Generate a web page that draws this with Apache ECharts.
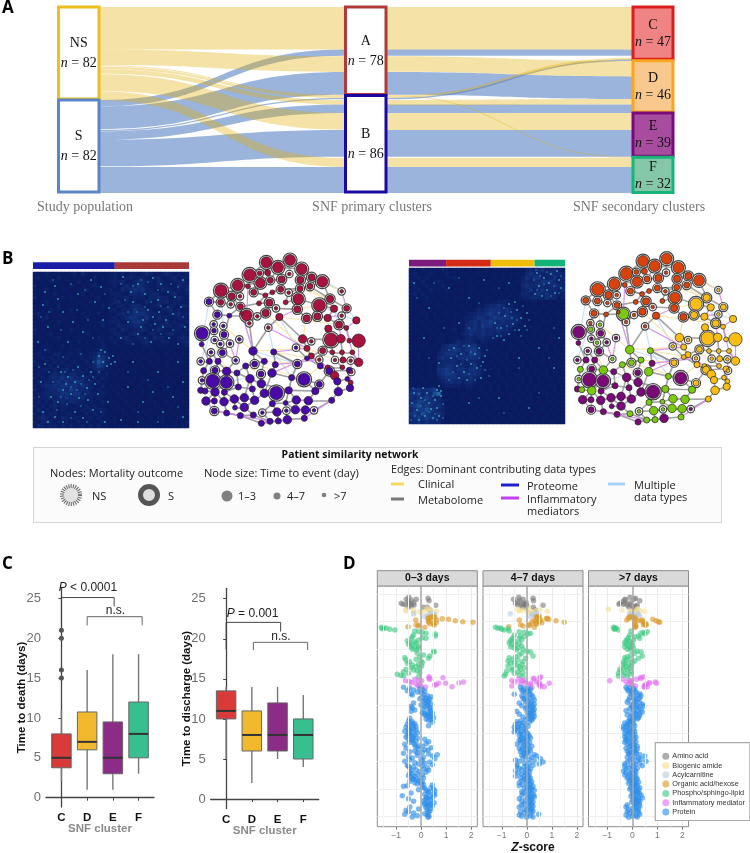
<!DOCTYPE html>
<html><head><meta charset="utf-8">
<style>html,body{margin:0;padding:0;background:#fff}#c{width:750px;height:853px}</style>
<script src="https://cdn.jsdelivr.net/npm/echarts@6/dist/echarts.min.js"></script></head>
<body><div id="c"></div>
<script>
/* ---------- A: alluvial ---------- */
const strata=[
 ['NS',82,0,0,'#EDBE1E','#fff'],['S',82,82,0,'#5B85C8','#fff'],
 ['A',78,0,1,'#B03A3A','#fff'],['B',86,78,1,'#1A0AA0','#fff'],
 ['C',47,0,2,'#DC1E1E','#F08484'],['D',46,47.5,2,'#F5A623','#F8C88E'],
 ['E',39,93.5,2,'#7A0A78','#A84CA0'],['F',32,132.5,2,'#18B47A','#84C8A8']];
const flowsPopToPrimary=[
 ['S',82,37.5,5.5],['S',87.6,57.4,20],['S',108.2,80.2,1.2],['S',109.6,86,7.5],['S',117,108.5,23.5],['S',141,141,23],
 ['NS',0,0,37.4],['NS',37.4,43.5,13.8],['NS',51.4,77.4,0.8],['NS',52.6,78.2,2],['NS',54.8,82,4],['NS',59.4,93.5,14.7],['NS',74.2,133,8]];
const flowsPrimaryToSecondary=[
 ['S',37.5,37.5,5.5],['S',57.4,61.2,20],['S',80.2,46.4,1.2],['S',86,86,7.5],['S',108.5,108.5,23.5],['S',141,141,23],
 ['NS',0,0,37.4],['NS',43.5,47.6,13.6],['NS',77.4,132.2,0.8],['NS',78.2,44.7,2],['NS',82,81.2,4.7],['NS',93.5,93.5,15],['NS',133,133,8]];
const stageCaptions=['Study population','SNF primary clusters','SNF secondary clusters'];

/* ---------- B: similarity matrices (0-9 intensity estimated per block) ---------- */
const primaryOrder=[['B',86,'#1A1FA5'],['A',78,'#A83A3A']];
const secondaryOrder=[['E',39,'#7A1A7A'],['C',47,'#D42A16'],['D',46,'#F0BE0A'],['F',32,'#14B478']];
const matrixPrimary=[
"101201100120310110112120221132112321212",
"120110201011100201012112322211231123122",
"011021101102011101122231123322132112231",
"201100110210101210102123234321122211322",
"101201011001120110121132343422113221213",
"110102101100201011022211332322321123112",
"201011020110010120112123122213232211321",
"011201100101102011012312121132122312211",
"110110201010110102121221233211231122132",
"101021100201011011022122243322112231211",
"120110110100101120111232344432221122312",
"011201011010120101012123443342132211221",
"101010210110101012122211344321221312112",
"110201101001011102111322233212123221231",
"201011010210110110022132122321132112212",
"110120101101021011112211232112211232121",
"011011201011101021121223112221322111232",
"120101101102010112012112211232112211123",
"101110020110111012101111110121011101112",
"111211101112011122111011010101001010011",
"121112211212112243211010101001100101010",
"112121212111212354210101010110010010101",
"211212121121121465311010001001010100110",
"121121212212112354201001010100100101001",
"112212123122121232110100110010010010100",
"121123232332212121201010001001100100011",
"212133343433321212110011010100010010100",
"121223434344322121101000100110100101001",
"112334344443432112010101001001001010010",
"211233443543332121101010010100100100101",
"122323344344232212100101000101010011010",
"212232334333322121010010101001001000101",
"121213232332212112101001010010100101010",
"212123122112121211010100101000110010100",
"131212121121212122101010010101001010101",
"213122112211121212010011001010100101011",
"123212132121112121101000101001011010210",
"212321212112121112011010010100101001012",
"132122121211212121101101001011001101021"];
const matrixSecondary=[
"111211112101110101010111110102323423321",
"121112101211011011110101011113433234332",
"112121110112101110101101010124344323423",
"211211121011110101011010101123233444322",
"121121112110101110110101111034334333432",
"112112111201110110101110101023423423323",
"121211110111011101110101010133234343322",
"111121101101110111011011101122333243312",
"110111010101101010111122210101110101011",
"101010111010110101123343221101010110101",
"110101010111011013234443432110101011010",
"101110101101101223345443432201011010110",
"011010110101112234434544443210110101011",
"101101011011012343445434333211010111010",
"110110101101013343544343332110101010101",
"101011010112013443433343321101011010110",
"110101101011023433433232211010110101011",
"101101011011112323322211111101010101101",
"011010111012323321221101110110101011010",
"101110102344334442110101011011010110101",
"110101013345434553111010110101101010110",
"011011023444343554211101101010110101011",
"101010134333444443110110101101010101101",
"110101123333232332101011010110101101010",
"101011033443332342110101101010110101011",
"110101144543443443211010110101011010101",
"011011134554344443110110101101010110110",
"101101023444333432101011010110101011011",
"110110112343323321110101101010101101010",
"101011101222212211101010110101011011101",
"344334521010101101101010101101010110101",
"445343671101011010110101011010101011010",
"434454331010110101011010110101101010101",
"345544432101010110101101010110101011011",
"456454343010101011010110101011010110101",
"345565432101011010110101101010101101010",
"454654343110101101011010110101011010101",
"345454432011010110101101011010110110011",
"334343331101011011010110101101010101101"];
const specksPrimary=[[58,8],[22,14],[45,22],[10,33],[30,40],[62,30],[15,55],[50,60],[35,70],[70,48],[5,70],[25,27],[68,15],[40,50],[12,20],[76,36],
[90,5],[105,12],[120,6],[135,20],[150,8],[100,30],[115,38],[125,28],[140,42],[95,50],[110,48],[122,52],[130,55],[148,35],[152,55],[88,66],[105,62],[118,70],[136,66],[145,72],[98,20],[128,12],[112,22],[142,25],[120,45],[108,55],[126,40],[133,48],
[72,80],[76,86],[80,84],[70,90],[74,94],[78,92],[66,84],[82,90],[68,78],
[28,100],[35,105],[42,110],[50,104],[58,100],[30,118],[38,122],[46,126],[54,116],[62,112],[25,130],[33,112],[45,95],[55,128],[65,122],[12,92],[8,110],[18,125],[10,140],[22,145],[30,150],[42,140],[50,146],[60,138],[72,150],[75,130],[15,150],
[100,90],[125,100],[145,90],[150,110],[110,130],[130,140],[95,115],[120,120],[140,125],[88,148],[150,145],[105,150]];
const specksSecondary=[[128,5],[135,10],[142,6],[150,12],[130,18],[138,22],[146,25],[152,20],[126,26],[133,28],[148,3],[140,15],
[100,36],[108,42],[96,48],[112,50],[104,56],[92,60],[118,45],[88,68],[100,66],[110,62],[95,72],[86,55],[106,34],[116,58],
[45,80],[52,86],[60,78],[70,80],[76,88],[48,98],[55,104],[62,96],[68,100],[74,94],[42,90],[50,110],[58,112],[72,110],[66,86],
[5,125],[12,130],[20,135],[28,140],[8,142],[16,148],[24,150],[32,128],[3,135],[14,120],[30,148],[18,125],[28,122],[32,123],[30,118],[10,152],[22,141],[26,132],
[40,20],[60,30],[20,40],[75,12],[100,15],[15,70],[50,55],[110,90],[130,80],[145,100],[90,130],[120,140],[60,135],[30,95],[150,70],[5,15]];
const faintPrimary=[[115,10],[125,18],[100,14],[108,8],[138,12],[118,30],[128,34],[104,40],[112,35],[135,35],[145,15],[92,28],[95,40],[150,45],[120,58],[112,66],[128,62],[100,72],[140,58],[88,12],
[25,95],[32,100],[40,98],[48,112],[56,108],[38,115],[28,125],[44,118],[52,122],[60,105],[34,132],[48,134],[20,110],[16,100],[66,100],[24,138],[38,146],[54,150],[68,140],[6,125],[12,78],[30,85],[48,82],[60,90],[6,95],
[20,8],[38,12],[52,18],[8,45],[28,58],[44,38],[60,66],[72,22],[16,40],[55,48],[95,100],[115,108],[135,115],[105,140],[125,150],[145,135]];
const faintSecondary=[[125,12],[131,8],[138,4],[145,18],[150,25],[128,22],[135,16],[142,28],[152,8],[127,2],
[90,45],[95,40],[102,44],[108,52],[114,38],[98,58],[106,62],[112,68],[88,60],[120,52],[92,68],[103,50],[84,70],[118,62],
[40,82],[48,88],[55,78],[62,84],[70,90],[78,82],[44,104],[52,96],[60,106],[66,112],[76,102],[40,112],[58,92],[72,98],[80,108],
[4,120],[10,126],[16,132],[24,128],[6,148],[12,138],[20,144],[28,152],[34,136],[2,152],[26,146],[34,150],
[8,30],[25,15],[50,10],[70,35],[35,60],[60,60],[90,20],[110,100],[140,90],[95,145],[130,125],[70,130],[20,90],[145,60]];

/* ---------- B: patient similarity network, x y size ring, clusters (primary, secondary) ---------- */
const nodes=[
[799,52,9,1,'AC'],[870,45,9,1,'AC'],[834,67,9,1,'AC'],[905,72,9,1,'AC'],[749,90,10,1,'AC'],[713,121,9,1,'AC'],[663,137,10,1,'AC'],[781,114,8,1,'AC'],[779,85,4,1,'AC'],[803,83,5,0,'AC'],
[868,87,3,1,'AC'],[845,103,6,1,'AC'],[811,106,5,1,'AC'],[901,105,6,1,'AC'],[935,97,6,1,'AC'],[967,110,9,1,'AC'],[900,131,5,1,'AC'],[930,124,5,1,'AC'],[744,124,4,0,'AC'],[842,133,5,1,'AC'],
[895,162,9,1,'AC'],[761,142,5,1,'AC'],[695,154,6,1,'AC'],[720,154,3,1,'AC'],[796,151,4,0,'AC'],[817,142,4,0,'AC'],[866,143,3,1,'AC'],[1025,139,3,1,'AD'],[990,162,6,1,'AD'],[662,172,5,1,'AC'],
[692,178,3,1,'AC'],[721,185,5,1,'AC'],[777,175,4,0,'AC'],[808,173,6,1,'AC'],[857,172,4,0,'AC'],[958,181,10,1,'AD'],[892,193,6,1,'AC'],[828,190,3,1,'AC'],[627,170,5,1,'BC'],[1002,191,6,0,'AD'],
[1040,190,5,1,'AD'],[740,211,9,1,'AF'],[797,204,6,1,'AC'],[772,214,3,1,'AC'],[920,220,6,1,'AC'],[952,214,6,1,'AD'],[838,216,6,0,'AC'],[652,209,5,1,'BC'],[688,212,4,0,'BC'],[725,205,3,0,'AC'],
[748,235,3,1,'AC'],[983,219,6,0,'AD'],[1025,212,3,1,'AD'],[1069,226,6,0,'AD'],[1017,239,6,1,'AD'],[985,251,6,0,'AD'],[1039,249,4,0,'AD'],[805,248,3,1,'AC'],[641,238,3,1,'BC'],[670,243,3,1,'BF'],
[642,257,4,1,'BF'],[606,265,10,1,'BE'],[672,269,5,1,'BE'],[1076,287,11,0,'AD'],[993,284,11,1,'AD'],[1023,281,7,0,'AD'],[908,282,7,0,'AD'],[1048,287,4,0,'AD'],[934,289,3,1,'AD'],[718,283,3,1,'BE'],
[644,285,3,1,'BE'],[661,297,3,1,'BF'],[690,296,3,1,'BE'],[605,298,4,0,'BE'],[921,310,5,0,'AD'],[888,308,3,1,'BD'],[968,317,5,1,'AD'],[997,322,4,0,'AD'],[1026,322,4,0,'AD'],[1057,322,4,0,'AD'],
[633,322,3,1,'BE'],[667,323,5,1,'BE'],[759,318,7,0,'BF'],[821,321,5,0,'BF'],[934,333,5,0,'AD'],[921,340,4,0,'BD'],[958,344,3,1,'AD'],[1005,345,3,1,'AD'],[1029,345,5,0,'AD'],[1052,347,3,1,'AD'],
[1076,352,7,0,'AD'],[602,349,3,1,'BE'],[628,349,5,0,'BE'],[654,349,5,0,'BE'],[707,346,3,1,'BF'],[793,349,5,0,'BF'],[764,357,5,1,'BF'],[892,357,5,1,'BD'],[826,359,5,0,'BE'],[737,363,5,0,'BF'],
[961,363,5,0,'BD'],[983,367,4,0,'AD'],[1027,367,4,0,'AD'],[611,377,5,0,'BF'],[645,376,5,1,'BE'],[680,379,7,0,'BF'],[711,384,5,0,'BE'],[783,387,5,1,'BE'],[816,384,7,0,'BF'],[988,378,6,1,'BD'],
[1048,376,5,0,'BD'],[1054,381,3,1,'AD'],[1004,392,7,0,'AD'],[875,398,5,0,'BF'],[606,406,3,1,'BF'],[638,408,11,1,'BE'],[679,412,10,1,'BE'],[750,401,7,0,'BE'],[912,403,10,1,'BE'],[1042,402,4,0,'BD'],
[1012,409,6,0,'BD'],[1052,413,4,0,'AD'],[784,416,7,0,'BE'],[958,418,5,1,'BD'],[715,426,5,0,'BE'],[602,436,5,0,'BE'],[615,438,5,0,'BF'],[645,441,7,0,'BF'],[673,442,5,0,'BE'],[757,432,5,0,'BE'],
[1050,429,6,0,'BD'],[829,444,11,1,'BE'],[866,436,6,0,'BF'],[946,438,6,0,'BF'],[793,445,7,0,'BE'],[1015,440,7,0,'BD'],[618,468,7,0,'BE'],[643,468,5,0,'BE'],[672,470,7,0,'BE'],[703,462,7,0,'BE'],
[733,458,7,0,'BE'],[764,466,7,0,'BE'],[817,476,5,0,'BF'],[857,474,4,0,'BF'],[889,465,7,0,'BF'],[925,467,7,0,'BF'],[995,466,5,0,'BD'],[643,498,5,1,'BE'],[680,504,5,0,'BE'],[705,488,4,0,'BE'],
[733,487,7,0,'BE'],[787,503,3,1,'BF'],[831,501,7,0,'BF'],[859,497,3,1,'BF'],[886,494,7,0,'BF'],[916,495,7,0,'BF'],[942,496,3,1,'BE'],[721,512,5,0,'BE'],[760,510,5,0,'BF'],[810,529,5,0,'BF'],
[835,528,5,0,'BF'],[862,524,7,0,'BE'],[913,520,5,0,'BF'],[784,535,5,0,'BE']];
const edgesMetabolome=[[1,3],[3,4],[2,3],[2,4],[1,10],[5,8],[5,9],[6,7],[6,8],[7,23],[7,39],[8,13],[13,12],[12,20],[20,17],[14,15],[15,16],[16,29],[17,21],[21,37],[23,32],[30,39],[32,42],[33,34],[35,21],[25,22],[26,20],[36,46],[36,40],[40,52],[29,41],[39,48],[48,59],[59,61],[61,62],[62,74],[63,49],[63,72],[42,51],[51,83],[58,47],[58,83],[47,67],[67,75],[75,85],[85,101],[67,65],[65,66],[66,79],[79,89],[77,78],[78,88],[74,93],[93,104],[104,115],[115,126],[82,95],[95,106],[106,117],[83,96],[96,108],[108,123],[84,99],[99,109],[109,135],[100,118],[118,130],[130,142],[117,128],[116,128],[116,105],[128,137],[128,139],[139,149],[140,151],[141,142],[142,135],[135,132],[132,133],[133,145],[145,146],[146,134],[134,119],[119,114],[114,133],[133,144],[144,155],[155,156],[156,157],[157,147],[147,136],[136,121],[121,113],[113,110],[153,154],[153,143],[143,132],[153,161],[160,161],[161,162],[162,163],[159,160],[159,151],[158,149],[158,164],[164,160],[125,130],[125,107],[107,100],[100,96],[97,83],[98,84],[98,114],[76,86],[86,101],[101,110],[110,124],[124,134],[94,105],[92,93],[105,106],[138,137],[138,128],[129,125],[129,139],[140,129],[150,140],[150,151],[152,153],
[1,5],[1,8],[3,13],[3,12],[4,14],[4,15],[2,11],[11,12],[5,13],[6,19],[19,22],[22,25],[25,26],[26,20],[8,22],[7,30],[30,31],[31,32],[32,33],[33,25],[34,38],[38,37],[37,45],[45,46],[46,52],[52,55],[55,57],[57,68],[14,17],[17,18],[18,16],[18,29],[29,36],[21,36],[35,27],[27,17],[42,43],[43,44],[44,51],[48,49],[49,42],[49,32],[60,63],[63,73],[73,82],[71,72],[72,82],[82,105],[81,93],[81,94],[94,106],[106,107],[107,118],[118,123],[123,135],[96,100],[99,109],[109,114],[84,98],[86,85],[85,77],[77,65],[65,78],[78,79],[79,80],[80,91],[89,90],[88,103],[103,102],[102,110],[110,111],[111,120],[120,122],[122,131],[131,136],[121,120],[113,102],[137,138],[139,140],[140,141],[141,118],[143,144],[144,145],[146,147],[119,124],[124,134],[134,133],[133,123],[125,117],[116,127],[127,128],[126,127],[148,149],[149,158],[158,159],[151,142],[152,143],[154,155],[156,163],[162,154],[160,152],[164,161]];
const edgesMediators=[[27,21],[11,12],[19,42],[54,57],[57,68],[68,80],[80,91],[64,91],[55,66],[87,113],[90,112],[122,111],[58,75],[69,67],[83,50],[70,95],[60,95],[82,72],[137,148],[148,158],[158,160],[160,164],[146,145],[147,163],[45,53],[28,41],[37,47],[84,75],[99,87],[109,86]];
const edgesMultiple=[[7,60],[39,74],[62,71],[48,71],[50,83],[58,84],[84,114],[83,98],[47,76],[59,92],[2,28],[16,28],[41,54],[53,54],[117,108],[133,98],[126,72],[138,148],[36,53],[29,55]];
const edgesClinical=[[16,28],[17,29],[37,36],[45,67],[43,85],[83,75],[75,88],[96,98],[100,108],[84,87],[97,119],[109,85],[47,55],[71,106],[60,83],[28,41],[14,40],[64,80],[119,101],[133,144]];

/* ---------- C: box plots: cluster, min, q1, median, q3, max ---------- */
const clusters=['C','D','E','F'];
const deathBoxes=[[0,2,3.75,5,8,11],[1,1,6,7,10.75,16],[2,1,3,5,9.5,18],[3,3,5,8,12,18]];
const deathOutliers=[[0,15],[0,16],[0,20],[0,21]];
const dischargeBoxes=[[0,5,10,11,13.5,14],[1,2,6,8,11,14],[2,5,6,8,12,14],[3,4,5,8,10,13]];
const deathBrackets=[[0,21.8,2.05,24,25.1],[1,21.6,3.14,21.6,22.7]];
const dischargeBrackets=[[0,18.7,2.12,20.9,22.05],[1.06,18.6,3.17,18.6,19.56]];

/* ---------- D: metabolite / protein z-scores (row position, then x per time window) ---------- */
const aminoY=[142,150,148,155,163,165,163,158,172,168,160,172,145,152,172,166,160,165,148,180];
const aminoEarly=[-.49,-.39,-.19,-.52,-.72,-.6,-.43,-.29,-.52,-.39,-.79,.08,.28,.32,.24,.59,-.45,-.28,-.59,.35];
const aminoMid=[-.32,-.28,-.15,-.36,-.1,-.36,-.05,-.02,-.18,0,-.45,.26,.25,.27,-.05,.65,-.15,-.24,-.53,.35];
const aminoLate=[-.09,-.27,.07,-.4,-.53,-.2,-.36,-.07,-.13,.13,-.49,.13,.13,.3,.07,.2,-.27,-.07,-.3,.03];
const amideY=[178,181,185,186,176,182,184,179,187,183];
const amideEarly=[-.6,-.3,-.05,.1,.22,.4,.62,.32,-.28,-.6];
const amideMid=[-.35,-.15,.05,.2,.05,.35,.82,.52,.12,-.3];
const amideLate=[-.95,-.42,-.1,.07,.2,.3,.5,.2,.02,-.05];
const acylY=[192,195,190,194,198,192,200];
const acylEarly=[-.3,.3,.4,.55,.25,.5,.15];
const acylMid=[-.66,.25,.4,.5,.3,.2,.15];
const acylLate=[-.1,.05,.2,.25,.3,-.05,.15];
const organicY=[210,224,228,212,200,204,202,206,210,222,225,212,208,212,215,217,221,218,230,226,232,200,216,205];
const organicEarly=[-.21,-.2,-.12,.3,.4,.33,.55,.85,.62,.5,.52,.45,1.1,1.37,1.67,2.08,.35,.6,-.52,-.08,.15,.5,.3,.28];
const organicMid=[-.3,-.25,-.15,.3,.38,.42,.5,.78,.55,.4,.12,.38,.88,1.17,.5,1.5,.35,.6,-.72,.1,.3,.45,.2,.82];
const organicLate=[-.22,.1,.15,.35,-.05,0,.08,.13,.4,.55,.45,.2,.82,.95,1.05,1.1,.5,.1,.12,.55,.12,-.12,.45,-.15];
const lipidY=[232,235,234,238,240,236,243,
245,247,250,252,255,258,260,263,265,268,270,272,275,278,280,283,285,288,290,293,295,298,300,
304,306,310,315,318,320,323,325,328,330,333,335,338,340,343,345,348,350,353,355,358,360,363,365,368,370,373,376,378,380];
const lipidEarly=[-1.59,-1.5,-1.4,-1.25,-1.05,-1.55,-.25,
-.1,.05,.2,.57,-.3,.57,-.35,.05,.2,-.4,-.1,-.55,-.25,-.45,-.2,-.5,-.35,-.1,-.42,-.25,-.1,-.35,-.2,
.5,.52,-.15,.1,.35,-.05,-.65,.3,-.2,-.6,0,-.45,.05,-.55,-.1,-.35,.02,-.2,-.4,-.05,-.6,-.3,-.15,-.7,-.05,-.5,-.95,-.8,-.7,-.1];
const lipidMid=[-1.25,-1.15,-1.05,-1,-.9,-.75,-.7,
-.3,-.1,.15,.05,-.5,-.25,-.1,-.55,-.3,-.6,-.2,-.65,-.45,-.7,-.3,-.6,-.45,-.2,-.65,-.35,-.5,-.15,-.4,
0,.15,-.2,-.3,.25,-.45,-.7,-.05,-.55,-.35,-.75,-.15,-.5,-.65,-.2,-.4,-.75,-.3,-.1,-.55,-.25,-.6,-.8,-.35,-.15,-.5,-.85,-.3,-.9,-.15];
const lipidLate=[-.75,-.7,-.65,-.72,-.55,-.68,-.05,
.6,.45,.35,.5,-.1,.25,.1,-.15,.3,-.2,.05,-.25,-.1,-.3,-.05,-.25,.02,-.15,-.3,-.1,.05,-.2,-.05,
.2,.35,.1,-.05,.4,-.2,-.3,.25,-.1,-.25,.1,-.35,0,-.3,-.15,-.4,-.05,-.25,-.35,-.1,-.5,-.2,-.45,-.05,-.3,-.55,-.1,-.35,-.55,-.2];
const mediatorY=[392,395,388,398,402,405,392,385,400,408,412,404,380,383,388,398,400,410,405,396,392,410];
const mediatorEarly=[-.62,-.45,-.25,-.38,-.2,-.05,.02,.32,.98,-.12,.18,.6,.32,.88,.35,1.52,.7,1.24,.55,1.7,-.1,.02];
const mediatorMid=[-.6,-.48,-.32,-.05,-.25,.15,-.1,.27,.15,-.6,.2,.5,.55,.53,.3,.5,.9,.7,.55,.4,-.2,.55];
const mediatorLate=[-.9,-.25,-.4,-.05,-.15,0,-.1,.35,.65,.13,.5,.55,.45,.33,.17,.7,.97,.47,.5,.92,-.05,.6];
const proteinY=[
412,414,416,418,420,422,424,426,428,431, 433,435,437,440,442,444,446,448,450,453,
455,457,459,461,463,465,467,469,470,472, 474,476,478,480,482,484,486,488,490,491,
493,495,497,499,501,503,505,507,509,511, 513,515,517,519,521,523,525,527,529,530,
532,534,536,538,540,542,544,546,548,550, 552,554,556,558,560,562,564,566,568,569,
571,573,575,577,579,581,583,585,587,589, 591,593,595,597,599,601,603,605,607,608,
610,612,614,616,618,620,622,624,626,628, 630,632,634,636,638,640,642,644,646,647,
649,651,653,655,657,659,661,663,665,667, 669,671,673,675,677,679,681,683,685,686,
688,690,692,694,696,698,700,702,704,705, 707,709,711,713,715,717,719,721,723,725,
727,729,731,733,735,737,739,741,743,744, 746,748,750,752,754,756,758,760,762,763,
765,767,769,771,773,775,777,779,781,783, 785,787,789,791,793,795,797,799,801,802];
const proteinEarly=[
-.7,-.45,-.05,.05,-.3,-.55,.15,-.15,0,-.4, .1,-.35,.25,.4,.05,.2,-.05,.35,.15,.28,
.1,.3,-.3,.2,.42,0,.25,-.4,.15,.35, -.35,.35,.1,-.25,.4,-.4,.28,.05,.45,.15,
.3,.15,.42,.25,.35,.5,-.45,.2,.4,.3, -.5,-.35,.45,-.4,-.25,-.55,-.3,.3,-.45,-.2,
-.6,-.4,-.3,-.5,-.2,-.45,-.65,-.35,-.15,-.5, -.45,-.25,-.55,-.4,-.3,-.6,-.15,-.35,.15,-.5,
-.35,-.2,.3,-.45,-.3,.2,-.65,-.25,-.1,.05, -.2,.4,-.6,-.1,.15,.28,-.25,-.45,.05,-.15,
-.7,.3,.65,-.15,.45,-.5,.1,-.35,.55,0, -.45,.05,-.65,.35,-.25,.15,-.1,.45,-.55,.05,
-.5,-.3,.25,-.45,.1,-.2,.3,-.4,-.05,.2, -.45,-.35,-.15,.05,-.5,-.25,-.4,.1,-.05,-.3,
-.35,-.2,-.1,-.45,.05,-.25,0,-.15,.1,.45, -.55,-.7,.05,.4,.15,.5,-.1,.2,.55,.3,
.3,-.4,.5,.15,.55,-.75,.35,.2,.45,.25, -.5,.2,.4,.1,-.3,.3,.52,.15,.38,.25,
.15,.45,.3,-.45,.2,.4,-.1,.25,-.6,.35, -.5,.3,-.3,.15,-.65,.25,-.15,.32,-.35,.28];
const proteinMid=[
-.25,-.1,.05,.15,-.2,.02,-.15,.1,-.05,.12, -.5,.2,-.2,0,.25,-.15,.1,-.1,.3,.05,
-.05,.2,-.3,.15,.3,.05,-.2,.25,.1,0, .2,-.05,.3,.1,.25,-.4,.15,.02,.28,.12,
-.3,.2,.1,.3,-.15,.05,.25,.15,-.05,.2, -.25,-.4,.1,-.15,-.3,-.45,-.05,-.2,.05,-.35,
-.5,-.3,-.1,-.45,-.05,-.35,-.2,-.5,0,-.25, .05,-.15,-.3,.1,0,-.2,.15,-.1,-.25,.02,
-.3,-.05,-.15,.12,-.25,0,-.4,.05,-.1,.2, -.15,0,-.3,.1,-.2,-.05,.15,-.25,.02,-.1,
.05,-.1,.3,-.2,.4,-.05,.2,-.15,.55,.1, -.45,.3,-.3,.65,-.1,.1,.5,-.4,.25,0,
-.4,-.1,.05,-.3,.15,-.2,0,-.45,.1,-.05, -.35,0,-.2,.1,-.1,-.45,.05,-.25,.15,-.05,
-.1,.1,-.2,.05,.2,-.3,0,.15,-.15,.08, -.3,.25,.05,.15,-.1,.2,0,.3,.1,-.2,
.1,-.15,.2,0,.28,-.2,.1,.3,.05,.15, -.3,.2,-.05,.15,-.2,.25,.05,.1,-.1,.2,
-.2,.1,.25,-.3,.05,.2,-.1,.15,0,.25, -.25,.2,-.1,.05,.48,-.3,.15,-.2,.25,0];
const proteinLate=[
-.25,-.1,.05,-.2,.1,-.05,-.15,.15,0,.3, -.05,.2,.35,.1,-.1,.3,.05,.25,-.15,.15,
.1,-.2,.3,.05,.4,-.05,.2,.45,.15,0, .25,-.1,.35,.05,-.25,.2,.4,.1,.3,-.05,
.15,-.2,.3,0,.1,.25,-.1,.2,.05,-.05, -.15,0,-.1,-.3,.05,-.2,-.05,.1,-.25,-.4,
-.2,-.05,-.35,.05,-.1,-.25,.1,-.15,0,-.3, -.1,.1,-.2,.02,-.3,.15,-.05,-.25,.08,-.15,
-.25,0,.15,-.3,-.1,.05,-.2,.1,-.05,.2, -.1,.05,-.25,.2,-.05,.1,-.2,.15,.02,-.12,
.15,-.15,.3,-.05,.5,.1,-.2,.25,0,.35, -.1,.2,.55,-.2,.05,.3,-.3,.12,-.05,.4,
-.3,.05,-.15,.2,-.25,0,.1,-.35,.15,-.05, -.25,-.1,.1,-.3,0,.15,-.15,.05,-.2,.2,
-.05,.15,.02,-.1,.25,.08,-.15,.18,0,.1, .05,.2,-.05,.3,.1,-.1,.25,.15,0,.2,
.1,.28,0,.2,.35,.05,-.05,.15,.25,.4, .15,.02,.25,.1,.3,-.02,.2,.08,.28,.12,
-.2,.1,.3,-.25,.15,0,.25,-.15,.2,.05, -.2,.25,-.1,.05,.3,-.25,.15,0,.2,-.15];
const windows=['0–3 days','4–7 days','>7 days'];
const zTicks=[-1,0,1,2];
const featureGroups=[
 ['Amino acid','#7d7d7d',aminoY,[aminoEarly,aminoMid,aminoLate]],
 ['Biogenic amide','#F2DE92',amideY,[amideEarly,amideMid,amideLate]],
 ['Acylcarnitine','#BCCBE2',acylY,[acylEarly,acylMid,acylLate]],
 ['Organic acid/hexose','#D99A2B',organicY,[organicEarly,organicMid,organicLate]],
 ['Phospho/sphingo-lipid','#3FC983',lipidY,[lipidEarly,lipidMid,lipidLate]],
 ['Inflammatory mediator','#E06FF0',mediatorY,[mediatorEarly,mediatorMid,mediatorLate]],
 ['Protein','#2A8CE8',proteinY,[proteinEarly,proteinMid,proteinLate]]];

/* ---------- build ---------- */
const SANS='"Liberation Sans",Arial,sans-serif', SERIF='"Liberation Serif",serif', OPEN='"Open Sans",sans-serif';
const grid=[],xAxis=[],yAxis=[],series=[];
function addGrid(g,x,y){grid.push(Object.assign({containLabel:false},g));const i=grid.length-1;xAxis.push(Object.assign({gridIndex:i},x));yAxis.push(Object.assign({gridIndex:i},y));return i;}
const hidden={show:false};

/* panel A */
const gA=addGrid({left:0,top:7,width:750,height:186},{type:'value',min:0,max:750,...hidden},{type:'value',min:0,max:164,inverse:true,...hidden});
const ribbonFill={NS:'rgba(226,172,0,0.35)',S:'rgba(88,130,197,0.6)'};
function ribbons(rows,x0,x1){
 series.push({type:'custom',xAxisIndex:gA,yAxisIndex:gA,silent:true,z:2,clip:false,data:rows,
  renderItem:(p,api)=>{const r=rows[p.dataIndex];
   const a=api.coord([x0,r[1]]),b=api.coord([x1,r[2]]),c=api.coord([x1,r[2]+r[3]]),d=api.coord([x0,r[1]+r[3]]);
   const m=(a[0]+b[0])/2;
   return {type:'path',shape:{pathData:`M${a[0]} ${a[1]}C${m} ${a[1]} ${m} ${b[1]} ${b[0]} ${b[1]}L${c[0]} ${c[1]}C${m} ${c[1]} ${m} ${d[1]} ${d[0]} ${d[1]}Z`},style:{fill:ribbonFill[r[0]]}};}});
}
ribbons(flowsPopToPrimary,100,344);
ribbons(flowsPrimaryToSecondary,387,632);
const stageX=[[58.5,99],[345.5,386],[633,673]];
series.push({type:'custom',xAxisIndex:gA,yAxisIndex:gA,silent:true,z:3,clip:false,data:strata,
 renderItem:(p,api)=>{const s=strata[p.dataIndex],[x0,x1]=stageX[s[3]];
  const a=api.coord([x0,s[2]]),b=api.coord([x1,s[2]+s[1]]);
  return {type:'group',children:[
   {type:'rect',shape:{x:a[0],y:a[1],width:b[0]-a[0],height:b[1]-a[1]-1},style:{fill:s[5],stroke:s[4],lineWidth:3}},
   {type:'text',x:(a[0]+b[0])/2,y:(a[1]+b[1])/2,style:{text:`{t|${s[0]}}\n{i|n}{t| = ${s[1]}}`,align:'center',verticalAlign:'middle',
     rich:{t:{fontFamily:SERIF,fontSize:14,lineHeight:s[3]==2?17:19.5,fill:'#111'},i:{fontFamily:SERIF,fontSize:14,fontStyle:'italic',lineHeight:s[3]==2?17:19.5,fill:'#111'}}}}]};}});

/* panel B */
function colourBar(order,left,top,width){
 const g=addGrid({left,top,width,height:6.7},{type:'value',min:0,max:164,...hidden},{type:'category',data:['x'],...hidden});
 order.forEach(o=>series.push({type:'bar',stack:'b'+g,xAxisIndex:g,yAxisIndex:g,barWidth:'100%',silent:true,data:[o[1]],itemStyle:{color:o[2]}}));
}
const heatIdx=[];
function heat(matrix,specks,faint,left,top,size){
 const idx=matrix.map((_,i)=>i);
 const g=addGrid({left,top,width:size,height:size},{type:'category',data:idx,...hidden},{type:'category',data:idx,inverse:true,...hidden});
 const d=[];matrix.forEach((row,r)=>row.split('').forEach((v,c)=>d.push([c,r,+v])));
 heatIdx.push(series.length);
 series.push({type:'heatmap',xAxisIndex:g,yAxisIndex:g,silent:true,data:d,progressive:0,itemStyle:{borderWidth:0}});
 const h=addGrid({left,top,width:size,height:size},{type:'value',min:0,max:156,...hidden},{type:'value',min:0,max:156,inverse:true,...hidden});
 series.push({type:'scatter',xAxisIndex:h,yAxisIndex:h,silent:true,z:4,data:faint,symbol:'rect',symbolSize:1.7,itemStyle:{color:'#2A7AAA',opacity:.8}});
 series.push({type:'scatter',xAxisIndex:h,yAxisIndex:h,silent:true,z:4,data:specks,symbol:'rect',symbolSize:1.7,itemStyle:{color:'#46C4C4',opacity:.85}});
}
const clusterColours1={A:'#A8123E',B:'#4A0AA8'};
const clusterColours2={C:'#D9420B',D:'#F9BE16',E:'#7A0A78',F:'#7ACB0E'};
function network(left,top,pick,colours,fade){
 const g=addGrid({left,top,width:180,height:171.67},{type:'value',min:570,max:1110,...hidden},{type:'value',min:30,max:545,inverse:true,...hidden});
 const edge=(list,color,width,op)=>series.push({type:'lines',coordinateSystem:'cartesian2d',xAxisIndex:g,yAxisIndex:g,silent:true,z:2,
   data:list.map(e=>({coords:[nodes[e[0]-1].slice(0,2),nodes[e[1]-1].slice(0,2)]})),lineStyle:{color,width,opacity:op,curveness:0}});
 edge(edgesMultiple,'#BBD8F5',1.2,.8);edge(edgesClinical,'#F6DE9A',1.2,.8);edge(edgesMetabolome,'#8E8E8E',1.6,fade);edge(edgesMediators,'#D68AF0',1.2,.9);
 const scale=1.22;
 series.push({type:'scatter',xAxisIndex:g,yAxisIndex:g,silent:true,z:3,
   data:nodes.filter(n=>n[3]).map(n=>[n[0],n[1],Math.max(n[2]*scale+3,7.5)]),symbolSize:v=>v[2],
   itemStyle:{color:'#fff',borderColor:'#444',borderWidth:1.2,opacity:1}});
 series.push({type:'scatter',xAxisIndex:g,yAxisIndex:g,silent:true,z:4,
   data:nodes.map(n=>({value:[n[0],n[1],n[2]*scale],itemStyle:{color:colours[n[4][pick]]}})),symbolSize:v=>v[2],
   itemStyle:{borderColor:'#222',borderWidth:.7,opacity:1}});
}
colourBar(primaryOrder,33,262.3,156);
heat(matrixPrimary,specksPrimary,faintPrimary,33,272,156);
network(190,255,0,clusterColours1,.85);
colourBar(secondaryOrder,409,259.7,156);
heat(matrixSecondary,specksSecondary,faintSecondary,409,268,156);
network(566.7,253.7,1,clusterColours2,.8);

/* panel C */
const boxColours=['#D93A3A','#F2B92E','#8B2C87','#37BF90'];
function boxPanel(left,top,bottom,yMin,yMax,title,boxes,outliers,brackets,notes){
 const g=addGrid({left,top,width:108,height:bottom-top},
  {type:'value',min:-.6,max:3.6,name:'SNF cluster',nameLocation:'middle',nameGap:16,nameMoveOverlap:false,nameTextStyle:{color:'#8a8a8a',fontFamily:SANS,fontWeight:'bold',fontSize:11.5},
   axisLine:{show:true,lineStyle:{color:'#444',width:1.3}},axisTick:{show:true,customValues:[0,1,2,3],length:3,lineStyle:{color:'#444'}},splitLine:{show:false},
   axisLabel:{customValues:[0,1,2,3],formatter:v=>clusters[v],color:'#111',fontFamily:SANS,fontWeight:'bold',fontSize:11.5,margin:5}},
  {type:'value',min:yMin,max:yMax,name:title,nameLocation:'middle',nameGap:18,nameMoveOverlap:false,nameTextStyle:{color:'#111',fontFamily:SANS,fontWeight:'bold',fontSize:11.5},
   axisLine:{show:true,lineStyle:{color:'#444',width:1.3}},axisTick:{show:true,customValues:[0,5,10,15,20,25],length:3,lineStyle:{color:'#444'}},splitLine:{show:false},
   axisLabel:{customValues:[0,5,10,15,20,25],color:'#6f6f6f',fontFamily:SANS,fontSize:13,margin:5}});
 series.push({type:'custom',xAxisIndex:g,yAxisIndex:g,silent:true,z:3,data:boxes,
  renderItem:(p,api)=>{const b=boxes[p.dataIndex],w=9.75,c=v=>api.coord([b[0],v]),x=c(0)[0];
   return {type:'group',children:[
    {type:'line',shape:{x1:x,y1:c(b[1])[1],x2:x,y2:c(b[5])[1]},style:{stroke:'#777',lineWidth:1.4}},
    {type:'rect',shape:{x:x-w,y:c(b[4])[1],width:2*w,height:c(b[2])[1]-c(b[4])[1]},style:{fill:boxColours[p.dataIndex],stroke:'#666',lineWidth:1}},
    {type:'line',shape:{x1:x-w,y1:c(b[3])[1],x2:x+w,y2:c(b[3])[1]},style:{stroke:'#333',lineWidth:2}}]};}});
 if(outliers.length)series.push({type:'scatter',xAxisIndex:g,yAxisIndex:g,silent:true,z:3,data:outliers,symbolSize:5,itemStyle:{color:'#555',opacity:1}});
 series.push({type:'custom',xAxisIndex:g,yAxisIndex:g,silent:true,z:4,clip:false,data:brackets,
  renderItem:(p,api)=>{const b=brackets[p.dataIndex],A=api.coord([b[0],b[1]]),B=api.coord([b[0],b[4]]),C=api.coord([b[2],b[4]]),D=api.coord([b[2],b[3]]);
   return {type:'polyline',shape:{points:[A,B,C,D]},style:{fill:'none',stroke:p.dataIndex?'#666':'#444',lineWidth:1}};}});
 series.push({type:'custom',xAxisIndex:g,yAxisIndex:g,silent:true,z:4,clip:false,data:notes,
  renderItem:(p,api)=>{const n=notes[p.dataIndex],a=api.coord([n[0],n[1]]);
   return {type:'text',x:a[0],y:a[1],style:{text:n[2],align:'center',verticalAlign:'middle',
     rich:{p:{fontFamily:SANS,fontStyle:'italic',fontSize:12,fill:'#222'},t:{fontFamily:SANS,fontSize:12,fill:'#222'}}}};}});
}
boxPanel(46,588,807,-1.17,26.3,'Time to death (days)',deathBoxes,deathOutliers,deathBrackets,[[1.03,26.3,'{p|P}{t| < 0.0001}'],[2.1,23.4,'{t|n.s.}']]);
boxPanel(210.7,588.3,808.7,-1.2,26.3,'Time to discharge (days)',dischargeBoxes,[],dischargeBrackets,[[1.03,23.1,'{p|P}{t| = 0.001}'],[2.13,20.3,'{t|n.s.}']]);

/* panel D */
const panelLeft=[377.3,483,588.5];
windows.forEach((w,k)=>{
 const g=addGrid({left:panelLeft[k],top:586,width:100,height:240.7,show:true,backgroundColor:'#fff',borderColor:'#8c8c8c',borderWidth:1},
  {type:'value',min:-1.75,max:2.25,axisLine:{show:false},axisTick:{show:true,customValues:zTicks,length:3,lineStyle:{color:'#777'}},
   splitLine:{show:true,lineStyle:{color:'#eaeaea',width:1}},axisLabel:{customValues:zTicks,color:'#777',fontSize:8.5,fontFamily:SANS,margin:4,formatter:v=>String(v).replace('-','−')}},
  {type:'value',min:108,max:830,inverse:true,axisLine:{show:false},axisTick:{show:false,customValues:[133,215,298,382,465,549,633,717,800]},axisLabel:{show:false},splitLine:{show:true,lineStyle:{color:'#eeeeee',width:1}}});
 series.push({type:'scatter',xAxisIndex:g,yAxisIndex:g,silent:true,z:2,data:[],markLine:{silent:true,symbol:'none',label:{show:false},animation:false,
   data:[-1.5,-.5,.5,1.5].map(v=>({xAxis:v,lineStyle:{color:'#f3f3f3',width:1,type:'solid'}})).concat([{xAxis:0,lineStyle:{color:'#a8a8a8',width:1.5,type:'solid'}}])}});
 featureGroups.forEach(f=>series.push({type:'scatter',name:f[0],xAxisIndex:g,yAxisIndex:g,silent:true,z:3,symbolSize:5.5,
   itemStyle:{color:f[1],opacity:.62},data:f[3][k].map((x,i)=>[x,f[2][i]])}));
});

/* free text and the edge key */
const T=(x,y,text,o={})=>({type:'text',x,y,z:30,style:Object.assign({text,fill:'#222',font:`11px ${OPEN}`,textVerticalAlign:'middle',verticalAlign:'middle'},o)});
const label=(x,y,t)=>T(x,y,t,{font:`bold 17px ${OPEN}`,fill:'#000'});
const swatch=(x,y,w,c)=>({type:'rect',z:30,shape:{x,y:y-1.5,width:w,height:3},style:{fill:c}});
const captionX=[85,372,639];
const gfx=[
 label(2,8,'A'),label(2,259,'B'),label(2,564,'C'),label(343,564,'D'),
 ...stageCaptions.map((c,i)=>T(captionX[i],207,c,{font:`14px ${SERIF}`,fill:'#777',textAlign:'center',align:'center'})),
 {type:'rect',z:25,shape:{x:33.5,y:447.5,width:688,height:75},style:{fill:'#fbfbfb',stroke:'#d4d4d4',lineWidth:1}},
 T(350,455,'Patient similarity network',{font:`bold 10.4px ${OPEN}`,fill:'#111',textAlign:'center',align:'center'}),
 T(50,474,'Nodes: Mortality outcome'),T(204,474,'Node size: Time to event (day)',{font:`11.1px ${OPEN}`}),T(391,470,'Edges: Dominant contributing data types',{font:`10.8px ${OPEN}`}),
 {type:'circle',z:30,shape:{cx:71,cy:495,r:9},style:{fill:'#e2e2e2',stroke:'#666',lineWidth:4,lineDash:[1,1.2]}},
 {type:'circle',z:30,shape:{cx:149,cy:495,r:8.5},style:{fill:'#ddd',stroke:'#555',lineWidth:5}},
 T(92,497,'NS'),T(168,497,'S'),
 {type:'circle',z:30,shape:{cx:227,cy:496,r:5.5},style:{fill:'#808080'}},T(238,497,'1–3'),
 {type:'circle',z:30,shape:{cx:277,cy:496,r:3.5},style:{fill:'#808080'}},T(287,497,'4–7'),
 {type:'circle',z:30,shape:{cx:324,cy:495,r:2.3},style:{fill:'#808080'}},T(334,497,'>7'),
 swatch(391,484,13,'#F6D95E'),T(418,485,'Clinical'),
 swatch(391,499,13,'#777'),T(418,501,'Metabolome'),
 swatch(501,485,18,'#2020C8'),T(527,487,'Proteome'),
 swatch(501,498,18,'#C040F0'),T(527,500,'Inflammatory'),T(527,512,'mediators'),
 swatch(608,484,17,'#A6D2F7'),T(634,486,'Multiple'),T(634,498,'data types'),
 ...windows.flatMap((w,k)=>[
  {type:'rect',z:25,shape:{x:panelLeft[k],y:570.7,width:100,height:15.3},style:{fill:'#d9d9d9',stroke:'#8c8c8c',lineWidth:1}},
  T(panelLeft[k]+50,578.5,w,{font:`bold 10.5px ${SANS}`,fill:'#111',textAlign:'center',align:'center'})]),
 {type:'text',x:533,y:847.5,z:30,style:{text:'{i|Z}{b|-score}',align:'center',verticalAlign:'middle',
   rich:{i:{fontFamily:SANS,fontWeight:'bold',fontStyle:'italic',fontSize:12,fill:'#111'},b:{fontFamily:SANS,fontWeight:'bold',fontSize:12,fill:'#111'}}}}
];

const chart=echarts.init(document.getElementById('c'),null,{renderer:'canvas'});
chart.setOption({animation:false,backgroundColor:'#fff',tooltip:{show:false},
 grid,xAxis,yAxis,series,graphic:{elements:gfx},
 visualMap:[{type:'continuous',show:false,min:0,max:9,seriesIndex:heatIdx,calculable:false,
   inRange:{color:['#0A1A5C','#0B1D62','#0D2268','#102870','#13307A','#173A84','#1C4C92','#2668A4','#3A90B4','#5CC8C8']}}],
 legend:{data:featureGroups.map(f=>f[0]),orient:'vertical',left:655.3,top:742.7,padding:[9,5,4,7],itemGap:0.3,itemWidth:7,itemHeight:7,icon:'circle',
   backgroundColor:'#fff',borderColor:'#aaa',borderWidth:1.2,borderRadius:0,z:40,selectedMode:false,
   textStyle:{fontFamily:SANS,fontSize:7.3,color:'#333',lineHeight:9,padding:[0,0,0,-2]}}
});
</script></body></html>
